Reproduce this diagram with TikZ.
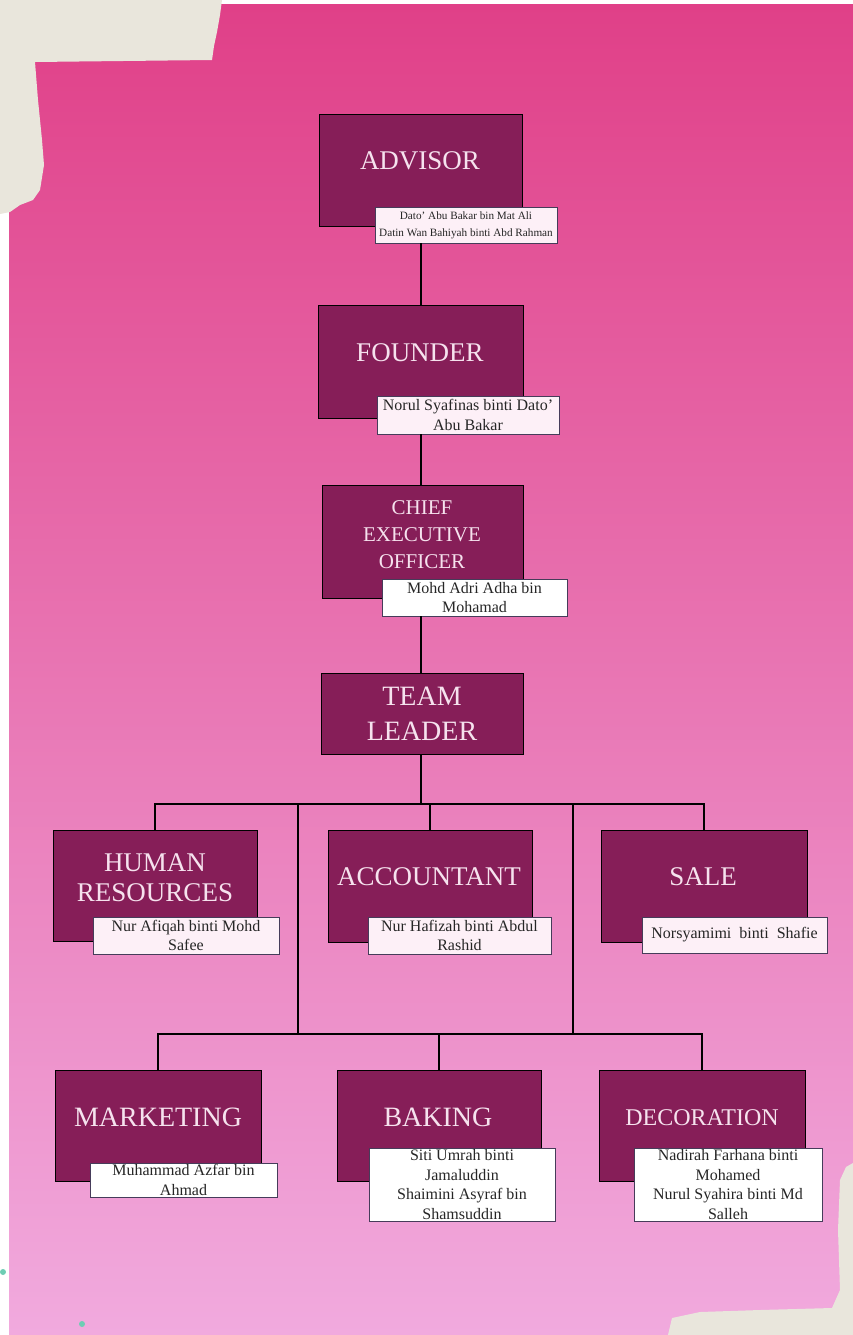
\documentclass[tikz,border=0pt]{standalone}
\usepackage{fontspec}
\setmainfont{Liberation Serif}
\usepackage{tikz}
\usetikzlibrary{arrows.meta, positioning, calc}

\definecolor{bgTop}{RGB}{224,64,136}
\definecolor{bgMid}{RGB}{235,108,172}
\definecolor{bgBot}{RGB}{241,170,222}
\definecolor{boxPurple}{RGB}{134,30,88}
\definecolor{titleText}{RGB}{246,226,238}
\definecolor{nameBorder}{RGB}{70,60,90}
\definecolor{namePink}{RGB}{253,240,247}
\definecolor{tape}{RGB}{233,230,220}
\definecolor{sparkle}{RGB}{110,205,180}

\begin{document}
\begin{tikzpicture}[
    x=1pt, y=-1pt,
    unit/.style={rectangle, draw=black, line width=1pt, fill=boxPurple},
    title/.style={text=titleText, align=center, inner sep=0pt, font=\fontsize{27}{33}\selectfont},
    person/.style={rectangle, draw=nameBorder, line width=0.8pt, fill=white, align=center, inner sep=0pt, text=black!85, font=\fontsize{16}{19.5}\selectfont},
    trunk/.style={line width=2pt},
    branch/.style={line width=1.2pt}
]
\useasboundingbox (0,0) rectangle (853,1335);

% Fundo
\shade[top color=bgTop, middle color=bgMid, bottom color=bgBot] (9,5) rectangle (853,1335);
\fill[tape] (0,0) -- (222,0) -- (220,15) -- (217,32) -- (214,46) -- (212,60) -- (35,62) -- (38,100)
    -- (42,140) -- (44,165) -- (40,190) -- (33,200) -- (20,205) -- (10,212) -- (0,214) -- cycle;
\fill[tape] (668,1335) -- (672,1318) -- (700,1312) -- (760,1310) -- (832,1308) -- (840,1290)
    -- (838,1230) -- (840,1180) -- (846,1167) -- (853,1163) -- (853,1335) -- cycle;
\fill[sparkle] (3,1272) circle (3);
\fill[sparkle] (82,1324) circle (3);

% Cargos
\node[unit, minimum width=203, minimum height=111] (adv) at (420.5,170.5) {};
\node[unit, minimum width=205, minimum height=113] (fou) at (420.5,361.5) {};
\node[unit, minimum width=201, minimum height=113] (ceo) at (422.5,541.5) {};
\node[unit, minimum width=202, minimum height=81] (tl) at (422,713.5) {};
\node[unit, minimum width=204, minimum height=111] (hr) at (155,885.5) {};
\node[unit, minimum width=204, minimum height=112] (acc) at (430,886) {};
\node[unit, minimum width=206, minimum height=112] (sale) at (704,886) {};
\node[unit, minimum width=206, minimum height=111] (mkt) at (158,1125.5) {};
\node[unit, minimum width=204, minimum height=111] (bak) at (439,1125.5) {};
\node[unit, minimum width=206, minimum height=111] (dec) at (702,1125.5) {};

% Titulos
\node[title] (advT) at (420,161) {ADVISOR};
\node[title] (fouT) at (420,353) {FOUNDER};
\node[title, font=\fontsize{21}{27}\selectfont] (ceoT) at (422,535) {CHIEF\\EXECUTIVE\\OFFICER};
\node[title, font=\fontsize{28}{35}\selectfont] (tlT) at (422,714) {TEAM\\LEADER};
\node[title, font=\fontsize{27}{30}\selectfont] (hrT) at (155,878) {HUMAN\\RESOURCES};
\node[title] (accT) at (429,877) {ACCOUNTANT};
\node[title] (saleT) at (703,877) {SALE};
\node[title, font=\fontsize{28}{33}\selectfont] (mktT) at (158,1117) {MARKETING};
\node[title, font=\fontsize{28}{33}\selectfont] (bakT) at (438,1117) {BAKING};
\node[title, font=\fontsize{24}{30}\selectfont] (decT) at (702,1118) {DECORATION};

% Nomes
\node[person, fill=namePink, minimum width=182, minimum height=36, font=\fontsize{11.2}{17}\selectfont] (advN) at (466,225)
    {Dato’ Abu Bakar bin Mat Ali\\Datin Wan Bahiyah binti Abd Rahman};
\node[person, fill=namePink, minimum width=182, minimum height=38] (fouN) at (468,415) {Norul Syafinas binti Dato’\\Abu Bakar};
\node[person, minimum width=185, minimum height=37] (ceoN) at (474.5,597.5) {Mohd Adri Adha bin\\Mohamad};
\node[person, fill=namePink, minimum width=186, minimum height=37] (hrN) at (186,935.5) {Nur Afiqah binti Mohd\\Safee};
\node[person, fill=namePink, minimum width=183, minimum height=37] (accN) at (459.5,935.5) {Nur Hafizah binti Abdul\\Rashid};
\node[person, fill=namePink, minimum width=185, minimum height=36] (saleN) at (734.5,935) {Norsyamimi\ \ binti\ \ Shafie};
\node[person, minimum width=187, minimum height=34] (mktN) at (183.5,1180) {Muhammad Azfar bin\\Ahmad};
\node[person, minimum width=186, minimum height=73] (bakN) at (462,1184.5)
    {Siti Umrah binti\\Jamaluddin\\Shaimini Asyraf bin\\Shamsuddin};
\node[person, minimum width=188, minimum height=73] (decN) at (728,1184.5)
    {Nadirah Farhana binti\\Mohamed\\Nurul Syahira binti Md\\Salleh};

% Ligacoes
\coordinate (bus1) at (421,804);
\coordinate (bus2) at (437,1034);
\coordinate (j1) at (298,804);
\coordinate (j2) at (573,804);
\coordinate (k1) at (298,1034);
\coordinate (k2) at (573,1034);

\draw[trunk] (adv.south |- advN.south) -- (fou.north);
\draw[trunk] (fou.south |- fouN.south) -- (ceo.north -| fou.south);
\draw[trunk] (fou.south |- ceoN.south) -- (tl.north -| fou.south);
\draw[trunk] (tl.south -| fou.south) -- (bus1 -| fou.south);

\draw[branch] (hr.north) -- (hr.north |- bus1) -- (sale.north |- bus1) -- (sale.north);
\draw[branch] (acc.north) -- (acc.north |- bus1);
\draw[branch] (j1) -- (k1);
\draw[branch] (j2) -- (k2);
\draw[branch] (mkt.north) -- (mkt.north |- bus2) -- (dec.north |- bus2) -- (dec.north);
\draw[branch] (bak.north) -- (bak.north |- bus2);

\end{tikzpicture}
\end{document}
